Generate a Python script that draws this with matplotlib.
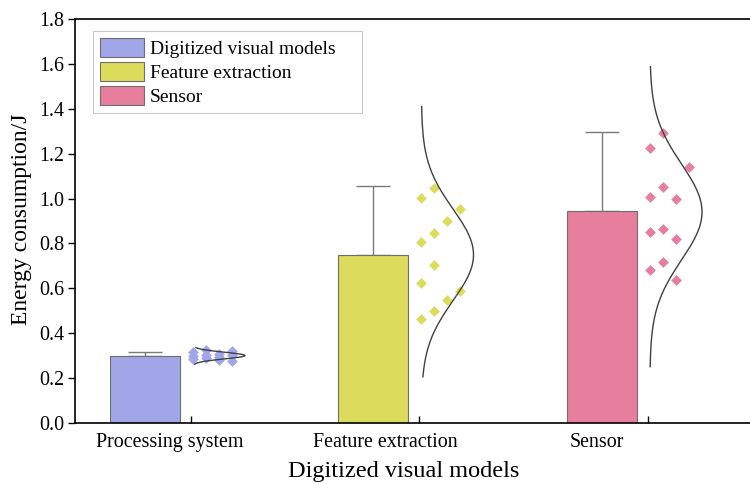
import numpy as np
import matplotlib
matplotlib.use("Agg")
import matplotlib.pyplot as plt
from matplotlib.patches import Patch

plt.rcParams["font.family"] = ["Liberation Serif", "DejaVu Serif"]

# ====== data ======
categories = ["Processing system", "Feature extraction", "Sensor"]
legend_names = ["Digitized visual models", "Feature extraction", "Sensor"]
colors = ["#a0a6e8", "#dcdc5c", "#e87e9e"]

bar_means = [0.30, 0.75, 0.945]
bar_err = [0.016, 0.305, 0.352]

# raw points (value, jitter column)
blue_vals = [0.324, 0.315, 0.319, 0.309, 0.305, 0.300, 0.296, 0.304, 0.290, 0.285, 0.282, 0.278]
blue_cols = [1, 0, 3, 2, 1, 0, 2, 3, 1, 0, 2, 3]
yellow_vals = [1.046, 1.004, 0.955, 0.901, 0.848, 0.808, 0.704, 0.625, 0.588, 0.548, 0.499, 0.465]
yellow_cols = [1, 0, 3, 2, 1, 0, 1, 0, 3, 2, 1, 0]
pink_vals = [1.294, 1.224, 1.139, 1.050, 1.009, 0.998, 0.863, 0.853, 0.819, 0.716, 0.682, 0.637]
pink_cols = [1, 0, 3, 1, 0, 2, 1, 0, 2, 1, 0, 2]

# extent of the fitted normal curves
curve_lo = [0.262, 0.206, 0.251]
curve_hi = [0.336, 1.41, 1.588]

points = [(blue_vals, blue_cols), (yellow_vals, yellow_cols), (pink_vals, pink_cols)]

# ====== plot ======
fig = plt.figure(figsize=(7.5, 4.84), dpi=100)
ax = fig.add_axes([0.1, 0.126, 0.9, 0.8347])

x = np.arange(len(categories))
bar_w = 0.306

ax.errorbar(x, bar_means, yerr=[np.zeros(3), bar_err], fmt="none",
            ecolor="#7a7a7a", elinewidth=1.0, capsize=12, capthick=1.0, zorder=1)
ax.bar(x, bar_means, width=bar_w, color=colors, edgecolor="#6e6e6e",
       linewidth=0.8, zorder=2)

pt_base, pt_step = 0.21, 0.057
curve_base, curve_amp = 0.21, 0.228
for i, (vals, cols) in enumerate(points):
    vals = np.array(vals)
    xs = i + pt_base + pt_step * np.array(cols)
    ax.scatter(xs, vals, marker="D", s=30, color=colors[i], linewidths=0, zorder=3)
    mu, sd = vals.mean(), vals.std(ddof=1)
    yy = np.linspace(curve_lo[i], curve_hi[i], 200)
    xx = i + curve_base + curve_amp * np.exp(-(yy - mu) ** 2 / (2 * sd ** 2))
    ax.plot(xx, yy, color="#404040", lw=1.0, zorder=4)

ax.set_xlim(-0.306, 2.648)
ax.set_ylim(0, 1.8)
ax.set_yticks(np.arange(0, 1.81, 0.2))
ax.set_yticklabels([f"{v:.1f}" for v in np.arange(0, 1.81, 0.2)])

# tick marks and labels are offset differently in the original
ax.set_xticks(x + 0.2)
ax.set_xticklabels([])
ax.set_xticks(x + np.array([0.109, 0.053, -0.022]), minor=True)
ax.set_xticklabels(categories, minor=True)
ax.tick_params(axis="x", which="major", direction="in", length=5, width=1)
ax.tick_params(axis="x", which="minor", length=0, pad=7, labelsize=14.4)
ax.tick_params(axis="y", direction="out", length=5, width=1, labelsize=14.4, pad=3)

for s in ["left", "bottom", "top"]:
    ax.spines[s].set_linewidth(1.2)
ax.spines["right"].set_visible(False)

ax.set_ylabel("Energy consumption/J", fontsize=17)
ax.set_xlabel("Digitized visual models", fontsize=17.5)
ax.xaxis.set_label_coords(0.487, -0.095)
ax.yaxis.set_label_coords(-0.063, 0.505)

handles = [Patch(facecolor=c, edgecolor="#6e6e6e", linewidth=0.8) for c in colors]
leg = ax.legend(handles, legend_names, loc="upper left",
                bbox_to_anchor=(0.0267, 0.970, 0.3985, 0), mode="expand",
                fontsize=14, frameon=True, fancybox=False, edgecolor="#bbbbbb",
                handlelength=2.27, handleheight=1.13, labelspacing=0.2,
                handletextpad=0.3, borderpad=0.35, borderaxespad=0)
leg.get_frame().set_linewidth(0.8)

fig.savefig("out.png", dpi=100)
